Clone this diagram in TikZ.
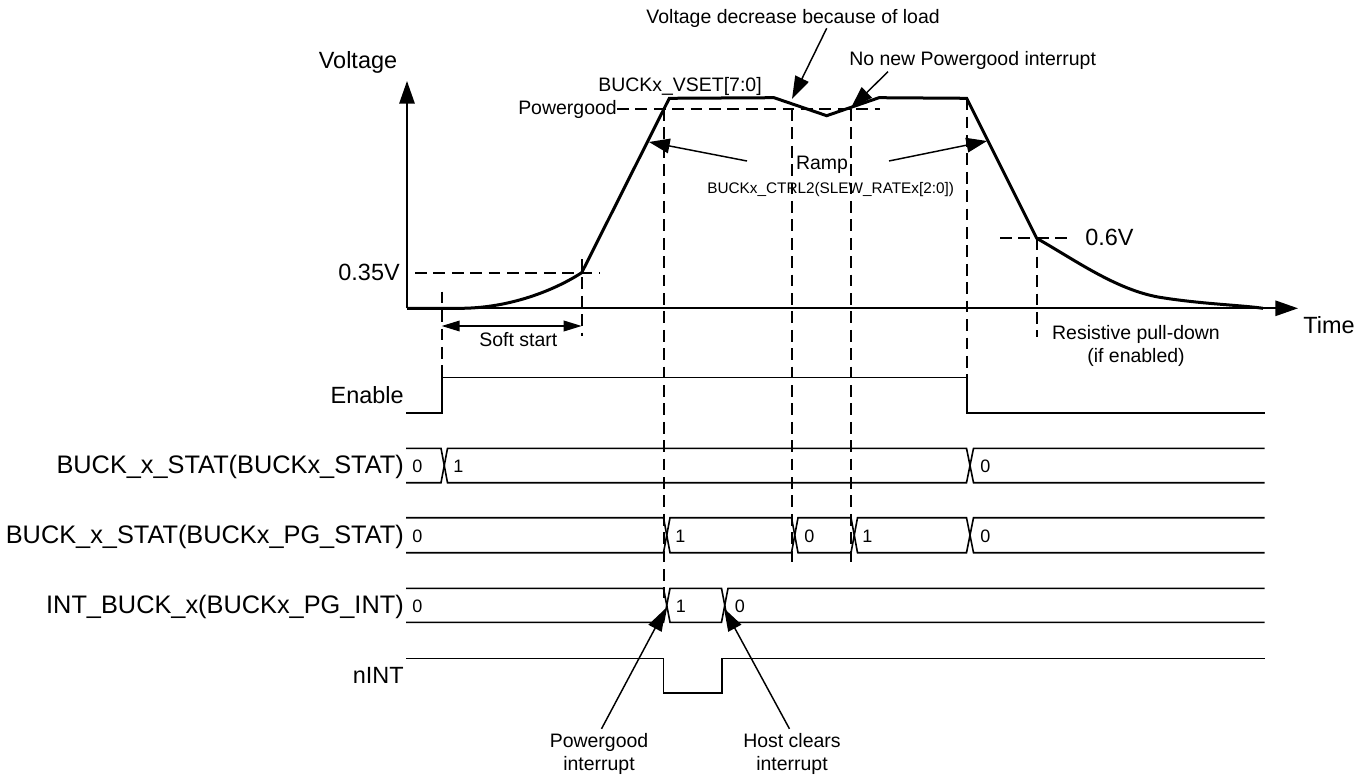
\documentclass[tikz,border=0pt]{standalone}
\usepackage{fontspec}
\setmainfont{Liberation Sans}
\usetikzlibrary{arrows.meta}
\begin{document}
\begin{tikzpicture}[x=0.75pt,y=-0.75pt,
  curve/.style={line width=2.25pt, line join=miter},
  axis/.style={line width=1.4pt, -{Triangle[length=17pt,width=11.5pt]}},
  sig/.style={line width=1.2pt},
  guide/.style={line width=1.3pt, dash pattern=on 8.8pt off 5pt},
  ann/.style={line width=1.1pt, -{Triangle[length=17pt,width=11pt]}},
  rampar/.style={line width=1.1pt, -{Triangle[length=15.5pt,width=11pt]}},
  softar/.style={line width=1.1pt, {Triangle[length=13.5pt,width=8pt]}-{Triangle[length=13.5pt,width=8pt]}},
  big/.style={font=\fontsize{17.6}{21}\selectfont, inner sep=0pt, anchor=base},
  rowlab/.style={font=\fontsize{17.6}{21}\selectfont, inner sep=0pt, anchor=base east},
  buslab/.style={font=\fontsize{19}{22}\selectfont, inner sep=0pt, anchor=base east},
  mid/.style={font=\fontsize{14.6}{17.3}\selectfont, inner sep=0pt, anchor=base},
  small/.style={font=\fontsize{11.5}{13.5}\selectfont, inner sep=0pt, anchor=base west},
  dig/.style={font=\fontsize{13.5}{16}\selectfont, inner sep=0pt, anchor=base west},
]
\useasboundingbox (0,0) rectangle (1369,777);

% ---------- axes ----------
\coordinate (O) at (407,308.3);
\coordinate (Ytip) at (407,81);
\coordinate (Xtip) at (1298,308.3);
\draw[axis] (O) -- (Ytip);
\draw[axis] (O) -- (Xtip);

% ---------- voltage curve ----------
\coordinate (ss0) at (460,308.3);
\coordinate (p035) at (581.7,272.7);
\coordinate (topL) at (669.3,98.3);
\coordinate (dipL) at (774,97.7);
\coordinate (dipM) at (826.7,115.7);
\coordinate (dipR) at (879,97.7);
\coordinate (topR) at (966.7,98.3);
\coordinate (p06) at (1036.7,238.3);
\coordinate (tailE) at (1263,308.3);
\draw[curve] (O) -- (ss0) .. controls (510,308.3) and (555,290) .. (p035)
  -- (topL) -- (dipL) -- (dipM) -- (dipR) -- (topR) -- (p06)
  .. controls (1075,260) and (1115,289) .. (1158,297)
  .. controls (1200,304) and (1240,305) .. (tailE);

% ---------- guide lines ----------
\draw[guide] (415,272.7) -- (600,272.7);
\draw[guide] (617,109) -- (880,109);
\draw[guide] (1000,238.3) -- (1073,238.3);
\draw[guide] (441.7,291.7) -- (441.7,377.3);
\draw[guide] (581.7,259) -- (581.7,336);
\draw[guide] (663.7,109) -- (663.7,598);
\draw[guide] (791.7,109) -- (791.7,563.3);
\draw[guide] (850.7,109) -- (850.7,563.3);
\draw[guide] (966.7,98.3) -- (966.7,377.3);
\draw[guide] (1036.7,238.3) -- (1036.7,336.7);

% ---------- upper labels ----------
\node[big] (vlab) at (358,68.5) {Voltage};
\node[big] (tlab) at (1329,333) {Time};
\node[big,anchor=base east] (v035) at (400,280) {0.35V};
\node[big,anchor=base west] (v06) at (1085,245) {0.6V};
\node[mid] (soft) at (518.3,346) {Soft start};
\node[mid] (vset) at (680,91.7) {BUCKx\_VSET[7:0]};
\node[mid,anchor=base east] (pg) at (617,114.3) {Powergood};
\node[mid] (ramp) at (822,170) {Ramp};
\node[small] (slew) at (707,194) {BUCKx\_CTRL2(SLEW\_RATEx[2:0])};
\node[mid,anchor=base east] (vdec) at (940,24) {Voltage decrease because of load};
\node[mid,anchor=base west] (nonew) at (849,66) {No new Powergood interrupt};
\node[mid,anchor=north,align=center] (resist) at (1136,325.5) {Resistive pull-down\\(if enabled)};

% soft start arrow
\coordinate (ssL) at (441.7,326);
\coordinate (ssR) at (581.7,326);
\draw[softar] (ssL) -- (ssR);

% ramp arrows
\coordinate (rampLtail) at (747,161);
\coordinate (rampLtip) at (649,142);
\coordinate (rampRtail) at (889,161);
\coordinate (rampRtip) at (987,141);
\draw[rampar] (rampLtail) -- (rampLtip);
\draw[rampar] (rampRtail) -- (rampRtip);

% annotation arrows at top
\coordinate (vdecTail) at (826.7,28.3);
\coordinate (vdecTip) at (792,99);
\coordinate (nonewTail) at (888,71.7);
\coordinate (nonewTip) at (850.7,108.3);
\draw[ann] (vdecTail) -- (vdecTip);
\draw[ann] (nonewTail) -- (nonewTip);

% ---------- row labels ----------
\node[rowlab] (lEn) at (404,403.3) {Enable};
\node[buslab] (lStat) at (404,473.3) {BUCK\_x\_STAT(BUCKx\_STAT)};
\node[buslab] (lPg) at (404,543) {BUCK\_x\_STAT(BUCKx\_PG\_STAT)};
\node[buslab] (lInt) at (404,613) {INT\_BUCK\_x(BUCKx\_PG\_INT)};
\node[rowlab] (lnInt) at (404,683) {nINT};

% ---------- Enable ----------
\draw[sig] (406,412.7) -- (441.7,412.7) -- (441.7,377.3) -- (966.7,377.3) -- (966.7,412.7) -- (1264.7,412.7);

% ---------- BUCKx_STAT bus ----------
\draw[sig] (406,448.3) -- (441,448.3) -- (447.5,482.7) -- (966.5,482.7) -- (973.5,448.3) -- (1264.7,448.3);
\draw[sig] (406,482.7) -- (441,482.7) -- (447.5,448.3) -- (966.5,448.3) -- (973.5,482.7) -- (1264.7,482.7);
\node[dig] (s0a) at (412,472.3) {0};
\node[dig] (s1a) at (453,472.3) {1};
\node[dig] (s0b) at (980,472.3) {0};

% ---------- BUCKx_PG_STAT bus ----------
\draw[sig] (406,517.7) -- (663.5,517.7) -- (670,552.7) -- (791.5,552.7) -- (798,517.7) -- (851,517.7) -- (857.5,552.7) -- (966.5,552.7) -- (973.5,517.7) -- (1264.7,517.7);
\draw[sig] (406,552.7) -- (663.5,552.7) -- (670,517.7) -- (791.5,517.7) -- (798,552.7) -- (851,552.7) -- (857.5,517.7) -- (966.5,517.7) -- (973.5,552.7) -- (1264.7,552.7);
\node[dig] (g0a) at (412,542) {0};
\node[dig] (g1a) at (675,542) {1};
\node[dig] (g0b) at (804,542) {0};
\node[dig] (g1b) at (862,542) {1};
\node[dig] (g0c) at (980,542) {0};

% ---------- BUCKx_PG_INT bus ----------
\draw[sig] (406,588.3) -- (663.5,588.3) -- (670,622.3) -- (721.5,622.3) -- (728,588.3) -- (1264.7,588.3);
\draw[sig] (406,622.3) -- (663.5,622.3) -- (670,588.3) -- (721.5,588.3) -- (728,622.3) -- (1264.7,622.3);
\node[dig] (i0a) at (412,612.3) {0};
\node[dig] (i1a) at (675.5,612.3) {1};
\node[dig] (i0b) at (734.5,612.3) {0};

% ---------- nINT ----------
\draw[sig] (406,658.3) -- (663.5,658.3) -- (663.5,692.7) -- (721.7,692.7) -- (721.7,658.3) -- (1264.7,658.3);

% ---------- bottom annotations ----------
\node[mid,anchor=north,align=center] (pgint) at (599,733.5) {Powergood\\interrupt};
\node[mid,anchor=north,align=center] (host) at (792,733.5) {Host clears\\interrupt};
\coordinate (pgTip) at (665.7,608.3);
\coordinate (hostTip) at (724,608.3);
\draw[ann, shorten <=4pt] (pgint.north) -- (pgTip);
\draw[ann, shorten <=4pt] (host.north) -- (hostTip);
\end{tikzpicture}
\end{document}
